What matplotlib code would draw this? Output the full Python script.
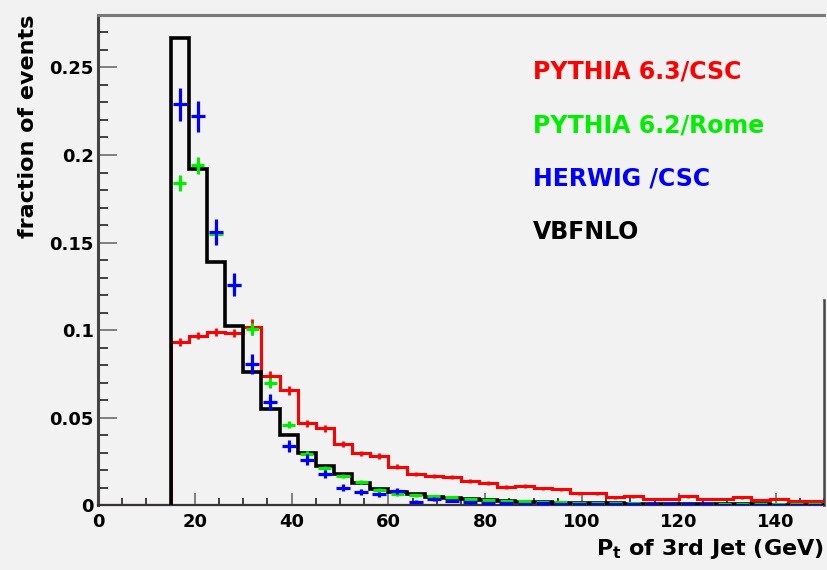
import numpy as np
import matplotlib
matplotlib.use("Agg")
import matplotlib.pyplot as plt
from matplotlib.ticker import FixedLocator, MultipleLocator

# Histogram binning: 40 bins of 3.75 GeV from 0 to 150 GeV
bin_edges = np.linspace(0.0, 150.0, 41)

# Fractions per bin, starting at the 15 GeV bin (bins below 15 GeV are empty)
pythia63_csc = [0.093, 0.0968, 0.0990, 0.0983, 0.1018, 0.074, 0.0655, 0.0466, 0.0439,
                0.0348, 0.0295, 0.0280, 0.0218, 0.0177, 0.0167, 0.0158, 0.0138, 0.0124,
                0.0104, 0.0110, 0.0095, 0.0090, 0.0067, 0.0067, 0.0044, 0.0049, 0.0032,
                0.0032, 0.0049, 0.0032, 0.0032, 0.0044, 0.0027, 0.0034, 0.0023, 0.0023]
pythia63_err = [0.0022, 0.0022, 0.0022, 0.0022, 0.0047, 0.0025, 0.0024, 0.0020, 0.0019,
                0.0017, 0.0016, 0.0016, 0.0014, 0.0013, 0.0012, 0.0012, 0.0011, 0.0011,
                0.0010, 0.0010, 0.0009, 0.0009, 0.0008, 0.0008, 0.0007, 0.0007, 0.0006,
                0.0006, 0.0007, 0.0006, 0.0006, 0.0007, 0.0005, 0.0006, 0.0005, 0.0005]

pythia62_rome = [0.184, 0.194, 0.155, 0.126, 0.1007, 0.0697, 0.046, 0.029, 0.0209,
                 0.0165, 0.0133, 0.0085, 0.0062, 0.0055, 0.0050, 0.0047, 0.0035, 0.0030,
                 0.0025, 0.0022, 0.0019, 0.0016, 0.0014, 0.0012, 0.0010, 0.0009, 0.0008,
                 0.0007, 0.0006, 0.0005, 0.0005, 0.0004, 0.0004, 0.0003, 0.0003, 0.0003]
pythia62_err = [0.0047, 0.0047, 0.0042, 0.0037, 0.0033, 0.0028, 0.0022, 0.0018, 0.0015,
                0.0013, 0.0012, 0.0010, 0.0008, 0.0008, 0.0007, 0.0007, 0.0006, 0.0006,
                0.0005, 0.0005, 0.0005, 0.0004, 0.0004, 0.0004, 0.0003, 0.0003, 0.0003,
                0.0003, 0.0003, 0.0002, 0.0002, 0.0002, 0.0002, 0.0002, 0.0002, 0.0002]

herwig_csc = [0.229, 0.222, 0.156, 0.126, 0.0807, 0.0589, 0.0336, 0.026, 0.0177,
              0.0099, 0.0076, 0.0061, 0.0080, 0.0019, 0.0032, 0.0025, 0.0015, 0.0011,
              0.0012, 0.0008, 0.0010, 0.0007, 0.0006, 0.0005, 0.0005, 0.0004, 0.0004,
              0.0003, 0.0003, 0.0003, 0.0002, 0.0002, 0.0002, 0.0002, 0.0001, 0.0001]
herwig_err = [0.0095, 0.0090, 0.0076, 0.0068, 0.0057, 0.0045, 0.0035, 0.0030, 0.0025,
              0.0020, 0.0017, 0.0015, 0.0015, 0.0010, 0.0011, 0.0010, 0.0008, 0.0007,
              0.0007, 0.0006, 0.0006, 0.0005, 0.0005, 0.0004, 0.0004, 0.0004, 0.0004,
              0.0003, 0.0003, 0.0003, 0.0003, 0.0003, 0.0003, 0.0003, 0.0002, 0.0002]

vbfnlo = [0.267, 0.192, 0.1386, 0.1022, 0.076, 0.0551, 0.0399, 0.0295, 0.0224,
          0.0175, 0.0127, 0.0089, 0.0076, 0.0063, 0.0047, 0.0040, 0.0033, 0.0028,
          0.0024, 0.0020, 0.0017, 0.0014, 0.0012, 0.0010, 0.0009, 0.0008, 0.0007,
          0.0006, 0.0005, 0.0004, 0.0004, 0.0003, 0.0003, 0.0002, 0.0002, 0.0002]

legend_labels = ["PYTHIA 6.3/CSC", "PYTHIA 6.2/Rome", "HERWIG /CSC", "VBFNLO"]
legend_colors = ["#ff0000", "#00ee00", "#0000ff", "#000000"]

y_ticks = [0.0, 0.05, 0.1, 0.15, 0.2, 0.25]
y_ticklabels = ["0", "0.05", "0.1", "0.15", "0.2", "0.25"]
x_ticks = [0, 20, 40, 60, 80, 100, 120, 140]
x_ticklabels = ["0", "20", "40", "60", "80", "100", "120", "140"]

plt.rcParams["font.family"] = ["DejaVu Sans"]
plt.rcParams["font.weight"] = "bold"
plt.rcParams["mathtext.fontset"] = "dejavusans"
plt.rcParams["mathtext.default"] = "bf"

bg = "#f2f2f2"
fig = plt.figure(figsize=(8.27, 5.70), dpi=100, facecolor=bg)
ax = fig.add_axes([0.1185, 0.114, 0.8779, 0.8597], facecolor=bg)

first = 4  # index of the 15 GeV bin
widths = np.diff(bin_edges)
centers = 0.5 * (bin_edges[:-1] + bin_edges[1:])
red_full = np.concatenate([np.zeros(first), pythia63_csc])

# Step histograms
ax.stairs(red_full, bin_edges, color="#ff0000", linewidth=2.2, baseline=None, zorder=2)
ax.stairs(vbfnlo, bin_edges[first:], color="black", linewidth=2.6, baseline=0, zorder=3)

# Error crosses
c = centers[first:]
ax.errorbar(c, pythia63_csc, xerr=1.0, yerr=pythia63_err, fmt="none",
            ecolor="#ff0000", elinewidth=2.0, capsize=0, zorder=4)
ax.errorbar(c, pythia62_rome, xerr=1.35, yerr=pythia62_err, fmt="none",
            ecolor="#00ee00", elinewidth=2.3, capsize=0, zorder=5)
ax.errorbar(c, herwig_csc, xerr=1.45, yerr=herwig_err, fmt="none",
            ecolor="#0000ff", elinewidth=2.3, capsize=0, zorder=6)

ax.set_xlim(0, 150)
ax.set_ylim(0, 0.28)

# Frame
ax.spines["left"].set_color("#444444")
ax.spines["left"].set_linewidth(2.2)
ax.spines["bottom"].set_color("#333333")
ax.spines["bottom"].set_linewidth(1.6)
ax.spines["top"].set_color("#7a7a7a")
ax.spines["top"].set_linewidth(2.2)
ax.spines["right"].set_color("#444444")
ax.spines["right"].set_linewidth(1.8)
ax.spines["right"].set_bounds(0, 0.117)

# Ticks
ax.yaxis.set_major_locator(FixedLocator(y_ticks))
ax.set_yticklabels(y_ticklabels)
ax.yaxis.set_minor_locator(MultipleLocator(0.01))
ax.xaxis.set_major_locator(FixedLocator(x_ticks))
ax.set_xticklabels(x_ticklabels)
ax.xaxis.set_minor_locator(MultipleLocator(5))

ax.tick_params(axis="y", which="major", direction="in", length=14, width=1.3,
               color="#777777", labelsize=13, pad=3, right=False)
ax.tick_params(axis="y", which="minor", direction="in", length=7, width=1.3,
               color="#333333", right=False)
ax.tick_params(axis="x", which="major", direction="in", length=9, width=1.3,
               color="#777777", labelsize=13, pad=6, top=False)
ax.tick_params(axis="x", which="minor", direction="in", length=5, width=1.3,
               color="#333333", top=False)

ax.set_ylabel("fraction of events", fontsize=16, fontweight="bold", loc="top", labelpad=8)
ax.set_xlabel(r"P$_{\mathbf{t}}$ of 3rd Jet (GeV)", fontsize=16, fontweight="bold",
              loc="right", labelpad=4)

# Sample labels
for i, (lab, col) in enumerate(zip(legend_labels, legend_colors)):
    ax.text(0.599, 0.884 - i * 0.109, lab, transform=ax.transAxes, color=col,
            fontsize=17, fontweight="bold", va="center", ha="left")

fig.savefig("out.png", dpi=100, facecolor=bg)
